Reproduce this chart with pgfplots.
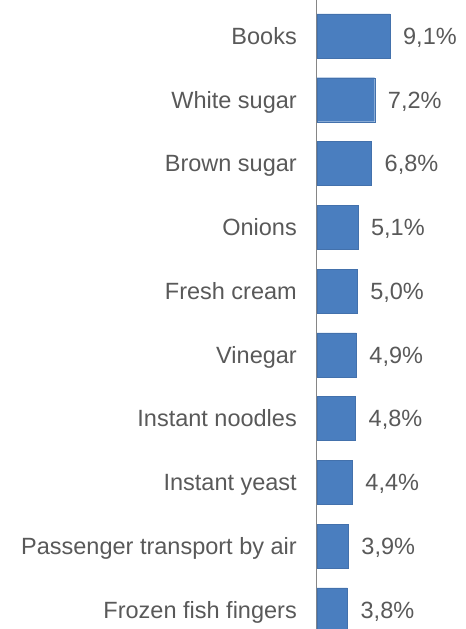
\documentclass[border=0pt]{standalone}
\usepackage{pgfplots}
\pgfplotsset{compat=1.18}
\usepackage{fontspec}
\setmainfont{Liberation Sans}
\definecolor{barblue}{HTML}{4A7EBF}
\definecolor{txtgray}{HTML}{595959}
\definecolor{axgray}{HTML}{868686}
\begin{document}
\begin{tikzpicture}
\begin{axis}[
  at={(0,0)}, anchor=south west,
  scale only axis,
  width=149bp, height=629bp,
  xmin=0, xmax=18.58,
  ymin=-0.564, ymax=9.3,
  y dir=reverse,
  xbar, bar width=44bp,
  axis lines*=left,
  x axis line style={draw=none},
  y axis line style={draw=axgray, line width=1bp, -},
  xtick=\empty,
  ytick={0,...,9},
  yticklabels={Books,White sugar,Brown sugar,Onions,Fresh cream,Vinegar,Instant noodles,Instant yeast,Passenger transport by air,Frozen fish fingers},
  major tick length=0pt,
  yticklabel style={font=\fontsize{23.5bp}{28bp}\selectfont, text=txtgray, inner sep=0pt, anchor=east, xshift=-20bp, text height=16.8bp, text depth=0bp},
  /pgf/number format/assume math mode=true,
  nodes near coords={\pgfmathprintnumber[fixed,precision=1,fixed zerofill,use comma,assume math mode=true]{\pgfplotspointmeta}\%},
  nodes near coords style={font=\fontsize{23.5bp}{28bp}\selectfont, text=txtgray, anchor=west, inner sep=0pt, xshift=13bp, text height=16.8bp, text depth=0bp},
  point meta=explicit symbolic,
  clip=false,
]
\addplot[fill=barblue, draw=barblue!90!black, line width=0.4bp] table[meta=v] {
x y v
9.1 0 9.1
7.2 1 7.2
6.8 2 6.8
5.1 3 5.1
5.0 4 5.0
4.9 5 4.9
4.8 6 4.8
4.4 7 4.4
3.9 8 3.9
3.8 9 3.8
};
\end{axis}
\pgfresetboundingbox
\path[use as bounding box] (-317bp,0) rectangle (149bp,629bp);
\end{tikzpicture}
\end{document}
